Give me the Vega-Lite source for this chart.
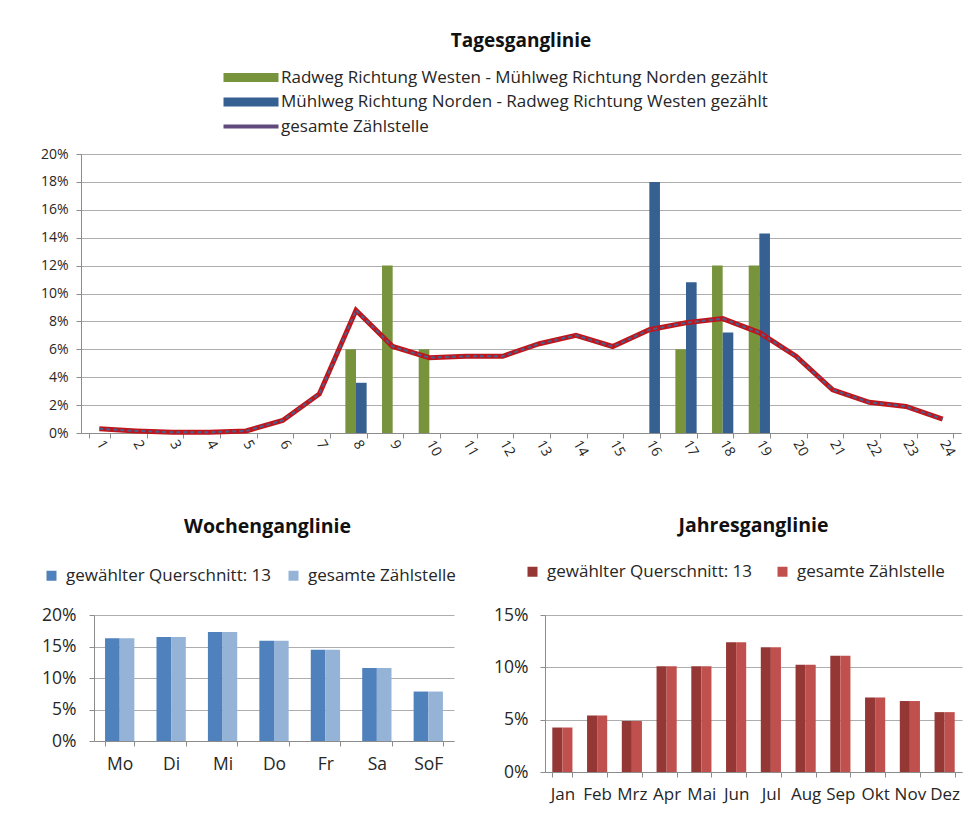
{
  "$schema": "https://vega.github.io/schema/vega-lite/v6.json",
  "padding": {"left": 40, "top": 32, "right": 4, "bottom": 4},
  "background": "white",
  "config": {
    "font": "Open Sans",
    "view": {"stroke": null},
    "axis": {"labelColor": "#262626", "domainColor": "#8C8C8C", "tickColor": "#8C8C8C", "gridColor": "#ADADAD", "labelFont": "Open Sans", "labelOverlap": false},
    "title": {"font": "Open Sans", "fontWeight": "bold", "color": "#111111", "anchor": "middle"},
    "legend": {"labelFont": "Open Sans", "labelColor": "#262626"}
  },
  "datasets": {
    "hourBars": [
      {"hour": 8, "series": "Radweg Richtung Westen - Mühlweg Richtung Norden gezählt", "value": 0.06},
      {"hour": 9, "series": "Radweg Richtung Westen - Mühlweg Richtung Norden gezählt", "value": 0.12},
      {"hour": 10, "series": "Radweg Richtung Westen - Mühlweg Richtung Norden gezählt", "value": 0.06},
      {"hour": 17, "series": "Radweg Richtung Westen - Mühlweg Richtung Norden gezählt", "value": 0.06},
      {"hour": 18, "series": "Radweg Richtung Westen - Mühlweg Richtung Norden gezählt", "value": 0.12},
      {"hour": 19, "series": "Radweg Richtung Westen - Mühlweg Richtung Norden gezählt", "value": 0.12},
      {"hour": 8, "series": "Mühlweg Richtung Norden - Radweg Richtung Westen gezählt", "value": 0.036},
      {"hour": 16, "series": "Mühlweg Richtung Norden - Radweg Richtung Westen gezählt", "value": 0.18},
      {"hour": 17, "series": "Mühlweg Richtung Norden - Radweg Richtung Westen gezählt", "value": 0.108},
      {"hour": 18, "series": "Mühlweg Richtung Norden - Radweg Richtung Westen gezählt", "value": 0.072},
      {"hour": 19, "series": "Mühlweg Richtung Norden - Radweg Richtung Westen gezählt", "value": 0.143}
    ],
    "hourLine": [
      {"hour": 1, "value": 0.003}, {"hour": 2, "value": 0.0015}, {"hour": 3, "value": 0.0005},
      {"hour": 4, "value": 0.0005}, {"hour": 5, "value": 0.0015}, {"hour": 6, "value": 0.009},
      {"hour": 7, "value": 0.028}, {"hour": 8, "value": 0.088}, {"hour": 9, "value": 0.062},
      {"hour": 10, "value": 0.054}, {"hour": 11, "value": 0.055}, {"hour": 12, "value": 0.055},
      {"hour": 13, "value": 0.064}, {"hour": 14, "value": 0.070}, {"hour": 15, "value": 0.062},
      {"hour": 16, "value": 0.074}, {"hour": 17, "value": 0.079}, {"hour": 18, "value": 0.082},
      {"hour": 19, "value": 0.072}, {"hour": 20, "value": 0.055}, {"hour": 21, "value": 0.031},
      {"hour": 22, "value": 0.022}, {"hour": 23, "value": 0.019}, {"hour": 24, "value": 0.010}
    ],
    "week": [
      {"day": "Mo", "series": "gewählter Querschnitt: 13", "value": 0.163},
      {"day": "Di", "series": "gewählter Querschnitt: 13", "value": 0.165},
      {"day": "Mi", "series": "gewählter Querschnitt: 13", "value": 0.173},
      {"day": "Do", "series": "gewählter Querschnitt: 13", "value": 0.159},
      {"day": "Fr", "series": "gewählter Querschnitt: 13", "value": 0.145},
      {"day": "Sa", "series": "gewählter Querschnitt: 13", "value": 0.116},
      {"day": "SoF", "series": "gewählter Querschnitt: 13", "value": 0.0785},
      {"day": "Mo", "series": "gesamte Zählstelle", "value": 0.163},
      {"day": "Di", "series": "gesamte Zählstelle", "value": 0.165},
      {"day": "Mi", "series": "gesamte Zählstelle", "value": 0.173},
      {"day": "Do", "series": "gesamte Zählstelle", "value": 0.159},
      {"day": "Fr", "series": "gesamte Zählstelle", "value": 0.145},
      {"day": "Sa", "series": "gesamte Zählstelle", "value": 0.116},
      {"day": "SoF", "series": "gesamte Zählstelle", "value": 0.0785}
    ],
    "year": [
      {"month": "Jan", "series": "gewählter Querschnitt: 13", "value": 0.0425},
      {"month": "Feb", "series": "gewählter Querschnitt: 13", "value": 0.054},
      {"month": "Mrz", "series": "gewählter Querschnitt: 13", "value": 0.0487},
      {"month": "Apr", "series": "gewählter Querschnitt: 13", "value": 0.101},
      {"month": "Mai", "series": "gewählter Querschnitt: 13", "value": 0.101},
      {"month": "Jun", "series": "gewählter Querschnitt: 13", "value": 0.124},
      {"month": "Jul", "series": "gewählter Querschnitt: 13", "value": 0.1193},
      {"month": "Aug", "series": "gewählter Querschnitt: 13", "value": 0.1025},
      {"month": "Sep", "series": "gewählter Querschnitt: 13", "value": 0.111},
      {"month": "Okt", "series": "gewählter Querschnitt: 13", "value": 0.0712},
      {"month": "Nov", "series": "gewählter Querschnitt: 13", "value": 0.0678},
      {"month": "Dez", "series": "gewählter Querschnitt: 13", "value": 0.0572},
      {"month": "Jan", "series": "gesamte Zählstelle", "value": 0.0425},
      {"month": "Feb", "series": "gesamte Zählstelle", "value": 0.054},
      {"month": "Mrz", "series": "gesamte Zählstelle", "value": 0.0487},
      {"month": "Apr", "series": "gesamte Zählstelle", "value": 0.101},
      {"month": "Mai", "series": "gesamte Zählstelle", "value": 0.101},
      {"month": "Jun", "series": "gesamte Zählstelle", "value": 0.124},
      {"month": "Jul", "series": "gesamte Zählstelle", "value": 0.1193},
      {"month": "Aug", "series": "gesamte Zählstelle", "value": 0.1025},
      {"month": "Sep", "series": "gesamte Zählstelle", "value": 0.111},
      {"month": "Okt", "series": "gesamte Zählstelle", "value": 0.0712},
      {"month": "Nov", "series": "gesamte Zählstelle", "value": 0.0678},
      {"month": "Dez", "series": "gesamte Zählstelle", "value": 0.0572}
    ]
  },
  "columns": 1,
  "align": "none",
  "spacing": 56,
  "resolve": {"scale": {"color": "independent", "x": "independent", "xOffset": "independent", "y": "independent"}, "legend": {"color": "independent"}},
  "concat": [
    {
      "title": {"text": "Tagesganglinie", "fontSize": 19, "offset": 18},
      "width": 880,
      "height": 279,
      "encoding": {
        "x": {
          "field": "hour", "type": "ordinal",
          "scale": {"domain": [1,2,3,4,5,6,7,8,9,10,11,12,13,14,15,16,17,18,19,20,21,22,23,24], "paddingInner": 0.42, "paddingOuter": 0.21},
          "axis": {"title": null, "labelAngle": 60, "labelFontSize": 14, "tickBand": "extent", "tickSize": 5, "labelPadding": 3, "grid": false}
        },
        "y": {
          "field": "value", "type": "quantitative",
          "scale": {"domain": [0, 0.2]},
          "axis": {"title": null, "values": [0,0.02,0.04,0.06,0.08,0.1,0.12,0.14,0.16,0.18,0.2], "format": ".0%", "labelFontSize": 14, "tickSize": 5, "labelPadding": 8, "grid": true}
        }
      },
      "layer": [
        {
          "data": {"name": "hourBars"},
          "mark": {"type": "bar"},
          "encoding": {
            "xOffset": {"field": "series", "scale": {"domain": ["Radweg Richtung Westen - Mühlweg Richtung Norden gezählt", "Mühlweg Richtung Norden - Radweg Richtung Westen gezählt"]}},
            "color": {
              "field": "series", "type": "nominal",
              "scale": {"domain": ["Radweg Richtung Westen - Mühlweg Richtung Norden gezählt", "Mühlweg Richtung Norden - Radweg Richtung Westen gezählt", "gesamte Zählstelle"], "range": ["#77933C", "#376092", "#604A7B"]},
              "legend": {
                "orient": "none", "legendX": 139, "legendY": -85, "direction": "vertical", "title": null,
                "symbolSize": 100, "symbolType": "M-1,-0.9H10V0.9H-1Z", "labelOffset": 44, "labelFontSize": 17, "labelLimit": 700, "rowPadding": 6.5,
                "encode": {
                  "symbols": {
                    "update": {
                      "shape": {"signal": "datum.value === 'gesamte Zählstelle' ? 'M-1,0H10' : 'M-1,-0.9H10V0.9H-1Z'"},
                      "stroke": {"signal": "datum.value === 'gesamte Zählstelle' ? '#604A7B' : 'transparent'"},
                      "strokeWidth": {"signal": "datum.value === 'gesamte Zählstelle' ? 4 : 0"}
                    }
                  }
                }
              }
            }
          }
        },
        {
          "data": {"name": "hourLine"},
          "mark": {"type": "line", "color": "#C0151B", "strokeWidth": 5},
          "encoding": {}
        },
        {
          "data": {"name": "hourLine"},
          "mark": {"type": "line", "color": "#4A5F8E", "strokeWidth": 2, "strokeDash": [4, 3]},
          "encoding": {}
        }
      ]
    },
    {
      "columns": 2,
      "align": "none",
      "spacing": 37,
      "resolve": {"scale": {"color": "independent", "x": "independent", "xOffset": "independent", "y": "independent"}, "legend": {"color": "independent"}},
      "concat": [
        {
          "title": {"text": "Wochenganglinie", "fontSize": 19.5, "offset": 30},
          "width": 373,
          "height": 126,
          "data": {"name": "week"},
          "mark": {"type": "bar"},
          "encoding": {
            "x": {
              "field": "day", "type": "nominal",
              "scale": {"domain": ["Mo", "Di", "Mi", "Do", "Fr", "Sa", "SoF"], "paddingInner": 0.43, "paddingOuter": 0.215, "rangeMin": 13},
              "axis": {"title": null, "labelAngle": 0, "labelFontSize": 17.5, "tickBand": "extent", "tickSize": 5, "labelPadding": 9}
            },
            "xOffset": {"field": "series", "scale": {"domain": ["gewählter Querschnitt: 13", "gesamte Zählstelle"]}},
            "y": {
              "field": "value", "type": "quantitative",
              "scale": {"domain": [0, 0.2]},
              "axis": {"title": null, "values": [0, 0.05, 0.1, 0.15, 0.2], "format": ".0%", "labelFontSize": 17.5, "tickSize": 5, "labelPadding": 13, "grid": true, "offset": -13}
            },
            "color": {
              "field": "series", "type": "nominal",
              "scale": {"domain": ["gewählter Querschnitt: 13", "gesamte Zählstelle"], "range": ["#4F81BD", "#95B3D7"]},
              "legend": {"orient": "none", "legendX": -38, "legendY": -48, "direction": "horizontal", "title": null, "symbolType": "square", "symbolSize": 100, "labelOffset": 6, "labelFontSize": 17, "labelLimit": 400, "columnPadding": 13}
            }
          }
        },
        {
          "title": {"text": "Jahresganglinie", "fontSize": 19.5, "offset": 27},
          "width": 417,
          "height": 157,
          "data": {"name": "year"},
          "mark": {"type": "bar"},
          "encoding": {
            "x": {
              "field": "month", "type": "nominal",
              "scale": {"domain": ["Jan", "Feb", "Mrz", "Apr", "Mai", "Jun", "Jul", "Aug", "Sep", "Okt", "Nov", "Dez"], "paddingInner": 0.42, "paddingOuter": 0.21},
              "axis": {"title": null, "labelAngle": 0, "labelFontSize": 17, "tickBand": "extent", "tickSize": 5, "labelPadding": 9}
            },
            "xOffset": {"field": "series", "scale": {"domain": ["gewählter Querschnitt: 13", "gesamte Zählstelle"]}},
            "y": {
              "field": "value", "type": "quantitative",
              "scale": {"domain": [0, 0.15]},
              "axis": {"title": null, "values": [0, 0.05, 0.1, 0.15], "format": ".0%", "labelFontSize": 17.5, "tickSize": 5, "labelPadding": 12, "grid": true}
            },
            "color": {
              "field": "series", "type": "nominal",
              "scale": {"domain": ["gewählter Querschnitt: 13", "gesamte Zählstelle"], "range": ["#953735", "#C0504D"]},
              "legend": {"orient": "none", "legendX": -21, "legendY": -52, "direction": "horizontal", "title": null, "symbolType": "square", "symbolSize": 100, "labelOffset": 6, "labelFontSize": 17, "labelLimit": 400, "columnPadding": 21}
            }
          }
        }
      ]
    }
  ]
}
